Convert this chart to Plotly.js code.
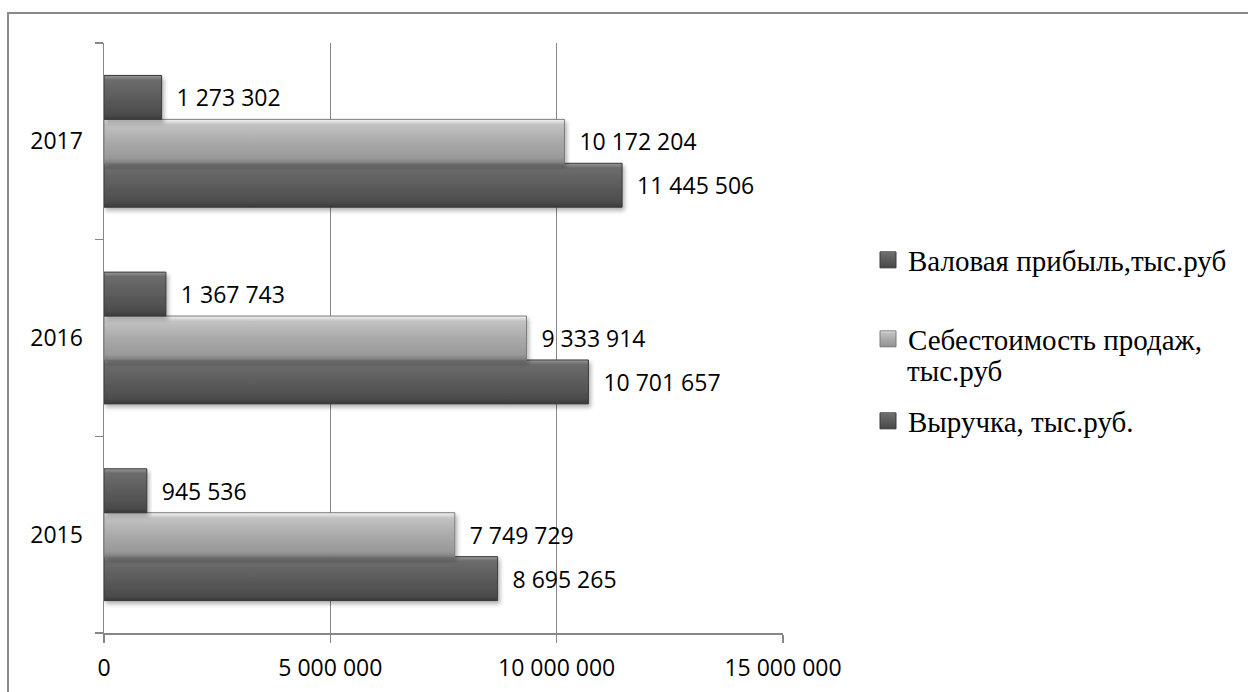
<!DOCTYPE html>
<html>
<head>
<meta charset="utf-8">
<script src="https://cdn.plot.ly/plotly-3.0.1.min.js"></script>
<style>
  html, body { margin: 0; padding: 0; background: #fff; }
  #chart { width: 1248px; height: 692px; }
</style>
</head>
<body>
<div id="chart"></div>
<script>
// Years on the category axis (bottom to top)
const years = ['2015', '2016', '2017'];

// Series values, thousand roubles
const revenue = [8695265, 10701657, 11445506];      // Выручка
const costOfSales = [7749729, 9333914, 10172204];   // Себестоимость продаж
const grossProfit = [945536, 1367743, 1273302];     // Валовая прибыль

// Legend captions
const nameRevenue = 'Выручка, тыс.руб.';
const nameCost = 'Себестоимость продаж,';
const nameCostLine2 = 'тыс.руб';
const nameProfit = 'Валовая прибыль,тыс.руб';

// Value-axis ticks
const xTicks = [0, 5000000, 10000000, 15000000];

const labelFont = { family: 'Open Sans, sans-serif', size: 23, color: '#000' };
const legendFont = { family: 'Liberation Serif, Times New Roman, serif', size: 29, color: '#000' };
const gridGray = '#878787';
const NB = '\u00a0\u00a0';

function barTrace(values, name, fill, edge, legendId) {
  return {
    type: 'bar',
    orientation: 'h',
    y: years,
    x: values,
    name: name,
    legend: legendId,
    marker: { color: fill, line: { color: edge, width: 1 } },
    texttemplate: NB + '%{x:,.0f}',
    textposition: 'outside',
    textfont: labelFont,
    constraintext: 'none',
    cliponaxis: false,
    hoverinfo: 'skip'
  };
}

const data = [
  barTrace(revenue, nameRevenue, '#5a5a5a', '#3a3a3a', 'legend3'),
  barTrace(costOfSales, nameCost, '#a8a8a8', '#7c7c7c', 'legend2'),
  barTrace(grossProfit, nameProfit, '#5a5a5a', '#3a3a3a', 'legend')
];

// plot-area geometry in pixels, used to place legend blocks and the frame
const L = 104, R = 783, T = 43, B = 633;
const px = v => (v - L) / (R - L);
const py = v => (B - v) / (B - T);

function legendAt(yPix) {
  return {
    x: px(868), xanchor: 'left',
    y: py(yPix), yanchor: 'middle',
    font: legendFont,
    bgcolor: 'rgba(0,0,0,0)',
    borderwidth: 0,
    valign: 'middle',
    itemclick: false, itemdoubleclick: false
  };
}

const layout = {
  width: 1248,
  height: 692,
  margin: { l: L, r: 1248 - R, t: T, b: 692 - B, pad: 0 },
  paper_bgcolor: '#fff',
  plot_bgcolor: '#fff',
  separators: ', ',
  barmode: 'group',
  bargap: 0.33,
  bargroupgap: 0,
  showlegend: true,
  legend: legendAt(260),
  legend2: legendAt(339),
  legend3: legendAt(421),
  xaxis: {
    range: [0, 15000000],
    tickvals: xTicks,
    tickformat: ',d',
    ticks: 'outside',
    ticklen: 8,
    tickwidth: 1.5,
    tickcolor: gridGray,
    showgrid: true,
    gridcolor: gridGray,
    gridwidth: 1.5,
    zeroline: false,
    showline: true,
    linecolor: gridGray,
    linewidth: 1.5,
    tickfont: labelFont,
    ticklabelstandoff: 6,
    fixedrange: true
  },
  yaxis: {
    type: 'category',
    categoryorder: 'array',
    categoryarray: years,
    tickson: 'boundaries',
    ticks: 'outside',
    ticklen: 8,
    tickwidth: 1.5,
    tickcolor: gridGray,
    showgrid: false,
    zeroline: false,
    showline: true,
    linecolor: gridGray,
    linewidth: 1.5,
    tickfont: labelFont,
    ticklabelstandoff: 15,
    fixedrange: true
  },
  annotations: [{
    xref: 'paper', yref: 'paper',
    x: px(906), y: py(371),
    xanchor: 'left', yanchor: 'middle',
    text: nameCostLine2,
    showarrow: false,
    font: legendFont,
    borderpad: 0
  }],
  shapes: [{
    type: 'rect', xref: 'paper', yref: 'paper', layer: 'below',
    x0: px(8), x1: px(1262), y0: py(706), y1: py(13),
    line: { color: '#8a8a8a', width: 2 },
    fillcolor: 'rgba(0,0,0,0)'
  }]
};

Plotly.newPlot('chart', data, layout, { staticPlot: true, displayModeBar: false }).then(gd => {
  // bevelled gradient fills and a soft drop shadow on the bars
  const svg = gd.querySelector('svg.main-svg');
  const NS = 'http://www.w3.org/2000/svg';
  let defs = svg.querySelector('defs');
  if (!defs) { defs = document.createElementNS(NS, 'defs'); svg.insertBefore(defs, svg.firstChild); }
  function grad(id, stops) {
    const g = document.createElementNS(NS, 'linearGradient');
    g.setAttribute('id', id);
    g.setAttribute('x1', '0'); g.setAttribute('y1', '0');
    g.setAttribute('x2', '0'); g.setAttribute('y2', '1');
    stops.forEach(([o, c]) => {
      const s = document.createElementNS(NS, 'stop');
      s.setAttribute('offset', o); s.setAttribute('stop-color', c);
      g.appendChild(s);
    });
    defs.appendChild(g);
  }
  grad('barDark', [['0', '#9a9a9a'], ['0.1', '#6c6c6c'], ['0.5', '#5c5c5c'], ['0.88', '#4c4c4c'], ['1', '#3a3a3a']]);
  grad('barLight', [['0', '#f4f4f4'], ['0.12', '#c2c2c2'], ['0.5', '#aaaaaa'], ['0.88', '#999999'], ['1', '#7e7e7e']]);
  const f = document.createElementNS(NS, 'filter');
  f.setAttribute('id', 'barShadow');
  f.setAttribute('x', '-5%'); f.setAttribute('y', '-20%');
  f.setAttribute('width', '115%'); f.setAttribute('height', '160%');
  const ds = document.createElementNS(NS, 'feDropShadow');
  ds.setAttribute('dx', '2'); ds.setAttribute('dy', '3');
  ds.setAttribute('stdDeviation', '2'); ds.setAttribute('flood-opacity', '0.3');
  f.appendChild(ds);
  defs.appendChild(f);

  const fills = ['url(#barDark)', 'url(#barLight)', 'url(#barDark)'];
  gd.querySelectorAll('.barlayer .trace').forEach((tr, i) => {
    tr.querySelectorAll('.point path').forEach(p => {
      p.style.fill = fills[i];
      p.setAttribute('filter', 'url(#barShadow)');
    });
  });
  // larger bevelled swatches in the legend
  const legendFill = { legend: 'url(#barDark)', legend2: 'url(#barLight)', legend3: 'url(#barDark)' };
  gd.querySelectorAll('.infolayer g[class^="legend"]').forEach(lg => {
    const cls = lg.getAttribute('class');
    if (legendFill[cls]) {
      lg.querySelectorAll('.legendpoints path.legendundefined, .legendpoints .legendbar path, .legendpoints path').forEach(p => {
        p.style.fill = legendFill[cls];
        p.setAttribute('d', 'M8,8H-8V-8H8Z');
      });
    }
  });
});
</script>
</body>
</html>
